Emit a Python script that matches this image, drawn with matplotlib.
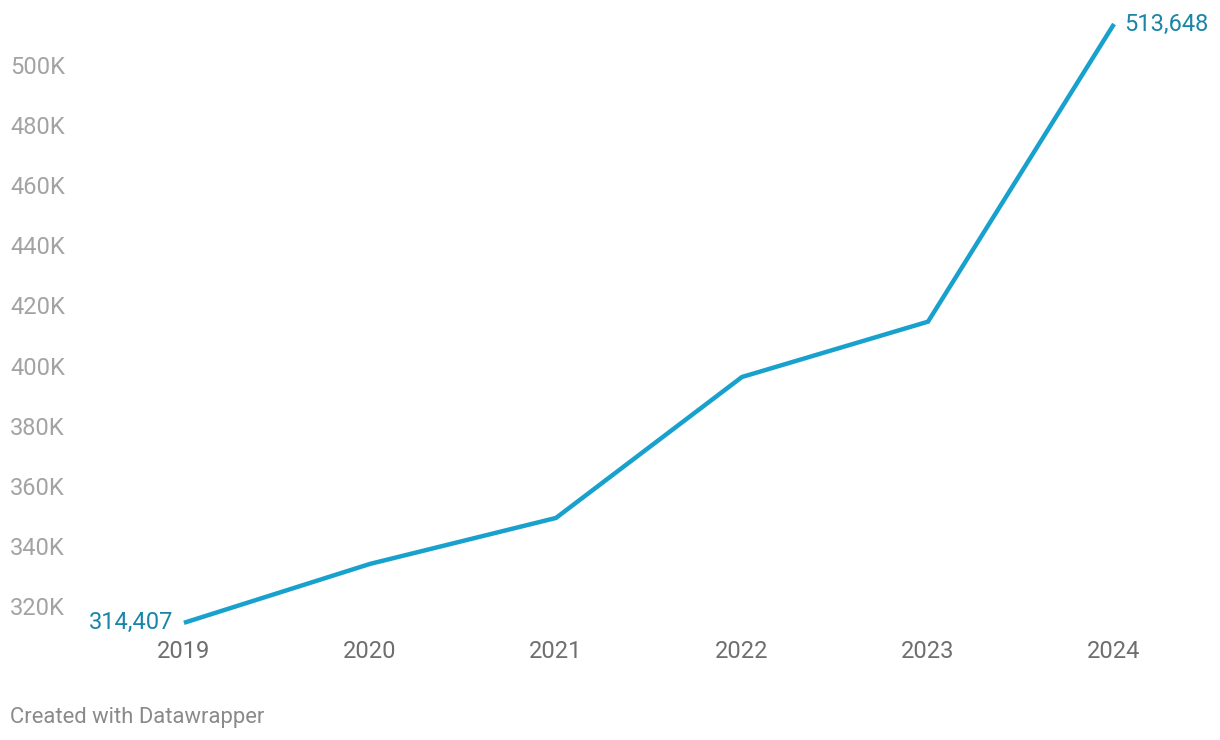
import matplotlib.pyplot as plt
from matplotlib.ticker import FuncFormatter

# data
years = [2019, 2020, 2021, 2022, 2023, 2024]
values = [314407, 334000, 349300, 396200, 414600, 513648]
y_ticks = [320000, 340000, 360000, 380000, 400000, 420000, 440000, 460000, 480000, 500000]

LINE_COLOR = '#18a1cd'
LABEL_COLOR = '#1a85a8'

plt.rcParams['font.family'] = ['Roboto', 'DejaVu Sans']

fig = plt.figure(figsize=(12.2, 7.4), dpi=100)
# axes placed in pixel terms: left 90, right 1210, top 15, bottom 630
ax = fig.add_axes([90 / 1220, (740 - 630) / 740, 1120 / 1220, 615 / 740])

ax.plot(years, values, color=LINE_COLOR, linewidth=3.2, solid_capstyle='butt', solid_joinstyle='miter')

ax.set_xlim(2018.495, 2024.516)
ax.set_ylim(312015, 516635)

for side in ['top', 'right', 'left', 'bottom']:
    ax.spines[side].set_visible(False)

ax.set_xticks(years)
ax.set_xticklabels([str(y) for y in years])
ax.set_yticks(y_ticks)
ax.yaxis.set_major_formatter(FuncFormatter(lambda v, p: f'{int(v / 1000)}K'))

ax.tick_params(axis='x', length=0, pad=7.5, labelsize=17, labelcolor='#6e6e6e')
ax.tick_params(axis='y', length=0, pad=57.6, labelsize=17, labelcolor='#a3a3a3')
for lab in ax.get_yticklabels():
    lab.set_horizontalalignment('left')

# end-point labels
ax.annotate(f'{values[0]:,}', (years[0], values[0]), xytext=(-7.5, 0), textcoords='offset points',
            ha='right', va='center', fontsize=17, color=LABEL_COLOR)
ax.annotate(f'{values[-1]:,}', (years[-1], values[-1]), xytext=(7, 0), textcoords='offset points',
            ha='left', va='center', fontsize=17, color=LABEL_COLOR)

fig.text(10 / 1220, 1 - 717 / 740, 'Created with Datawrapper', ha='left', va='center',
         fontsize=15.8, color='#8a8a8a')

plt.savefig('out.png', dpi=100)
plt.close()
